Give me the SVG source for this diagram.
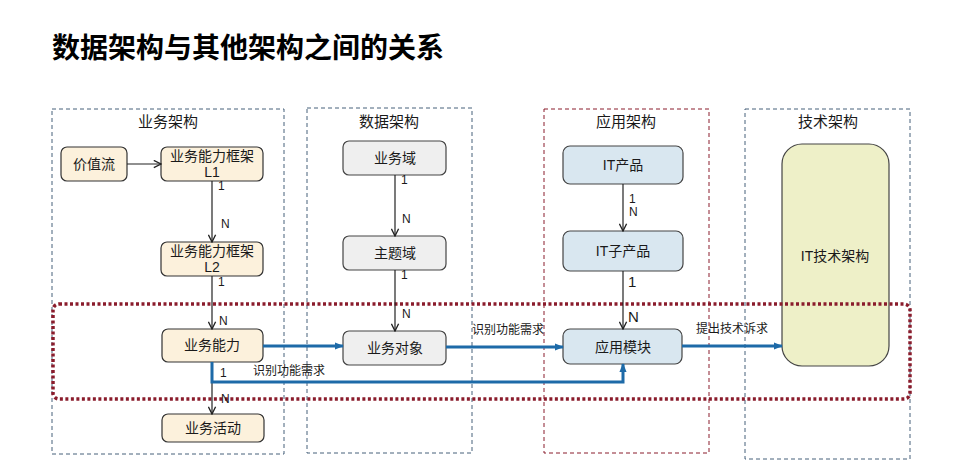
<svg xmlns="http://www.w3.org/2000/svg" width="960" height="468" viewBox="0 0 960 468">
<defs>
<style>
text{font-family:"Liberation Sans","Noto Sans CJK SC",sans-serif;fill:#1a1a1a}
.title{font-size:28px;font-weight:bold;fill:#000}
.col{fill:none;stroke:#46617a;stroke-width:1;stroke-dasharray:4 3}
.colr{fill:none;stroke:#8a1c2c;stroke-width:1;stroke-dasharray:4 3}
.ct{font-size:15px;text-anchor:middle}
.nt{font-size:14px;text-anchor:middle}
.lab{font-size:12px}
.bz{fill:#fcf1dc;stroke:#333;stroke-width:1.2}
.gr{fill:#efefef;stroke:#444;stroke-width:1.2}
.bl{fill:#d9e7f0;stroke:#444;stroke-width:1.2}
.yl{fill:#eef0c8;stroke:#444;stroke-width:1.2}
.k{stroke:#222;stroke-width:1.2;fill:none;marker-end:url(#ak)}
.b{stroke:#1d6aa8;stroke-width:3;fill:none;marker-end:url(#ab)}
</style>
<marker id="ak" viewBox="0 0 10 10" refX="9" refY="5" markerWidth="9" markerHeight="9" markerUnits="userSpaceOnUse" orient="auto"><path d="M1,1 L9,5 L1,9" fill="none" stroke="#222" stroke-width="1.5"/></marker>
<marker id="ab" viewBox="0 0 10 10" refX="9" refY="5" markerWidth="9" markerHeight="9" markerUnits="userSpaceOnUse" orient="auto"><path d="M0,1 L10,5 L0,9 Z" fill="#1d6aa8"/></marker>
</defs>
<rect width="960" height="468" fill="#fff"/>
<text class="title" x="52" y="58">数据架构与其他架构之间的关系</text>

<g id="col-business"><rect class="col" x="52" y="109" width="232" height="345"/><text class="ct" x="168" y="127">业务架构</text></g>
<g id="col-data"><rect class="col" x="307" y="108" width="165" height="345"/><text class="ct" x="389" y="127">数据架构</text></g>
<g id="col-app"><rect class="colr" x="544" y="109" width="165" height="344"/><text class="ct" x="626" y="127">应用架构</text></g>
<g id="col-tech"><rect class="col" x="745" y="109" width="165" height="350"/><text class="ct" x="828" y="127">技术架构</text></g>

<g id="n-valuestream"><rect class="bz" x="61" y="147" width="66" height="34" rx="6"/><text class="nt" x="94" y="169">价值流</text></g>
<g id="n-l1"><rect class="bz" x="161" y="147" width="102" height="34" rx="6"/><text class="nt" x="212" y="161">业务能力框架</text><text class="nt" x="212" y="177">L1</text></g>
<g id="n-l2"><rect class="bz" x="161" y="242" width="102" height="34" rx="6"/><text class="nt" x="212" y="256">业务能力框架</text><text class="nt" x="212" y="272">L2</text></g>
<g id="n-capability"><rect class="bz" x="162" y="329" width="101" height="33" rx="6"/><text class="nt" x="212" y="350">业务能力</text></g>
<g id="n-activity"><rect class="bz" x="162" y="414" width="102" height="28" rx="6"/><text class="nt" x="213" y="433">业务活动</text></g>

<g id="n-domain"><rect class="gr" x="343" y="141" width="103" height="34" rx="6"/><text class="nt" x="395" y="163">业务域</text></g>
<g id="n-subject"><rect class="gr" x="343" y="236" width="103" height="34" rx="6"/><text class="nt" x="395" y="258">主题域</text></g>
<g id="n-object"><rect class="gr" x="343" y="331" width="103" height="34" rx="6"/><text class="nt" x="395" y="353">业务对象</text></g>

<g id="n-itproduct"><rect class="bl" x="563" y="146" width="120" height="38" rx="7"/><text class="nt" x="623" y="170">IT产品</text></g>
<g id="n-itsub"><rect class="bl" x="563" y="231" width="120" height="40" rx="7"/><text class="nt" x="623" y="256">IT子产品</text></g>
<g id="n-module"><rect class="bl" x="563" y="329" width="119" height="35" rx="7"/><text class="nt" x="623" y="352">应用模块</text></g>

<g id="n-ittech"><rect class="yl" x="782" y="144" width="107" height="222" rx="20"/><text class="nt" x="835" y="261">IT技术架构</text></g>

<g id="focus"><rect x="53" y="304" width="857" height="95" rx="6" fill="none" stroke="#8a1c2c" stroke-width="3.5" stroke-dasharray="3 2.5"/></g>

<g id="connectors">
<path class="k" d="M127,164 H161"/>
<path class="k" d="M212,181 V242"/>
<path class="k" d="M212,276 V329"/>
<path class="k" d="M212,381 V414"/>
<path class="k" d="M395,175 V236"/>
<path class="k" d="M395,270 V331"/>
<path class="k" d="M623,184 V231"/>
<path class="k" d="M623,271 V329"/>
<path class="b" d="M263,346 H343"/>
<path class="b" d="M446,347 H563"/>
<path class="b" d="M682,346 H782"/>
<path class="b" d="M212,362 V382 H623 V364"/>
<text class="lab" x="218" y="190">1</text>
<text class="lab" x="221" y="228">N</text>
<text class="lab" x="218" y="286">1</text>
<text class="lab" x="219" y="325">N</text>
<text class="lab" x="220" y="377">1</text>
<text class="lab" x="221" y="403">N</text>
<text class="lab" x="401" y="184">1</text>
<text class="lab" x="402" y="223">N</text>
<text class="lab" x="401" y="279">1</text>
<text class="lab" x="402" y="318">N</text>
<text class="lab" x="629" y="203">1</text>
<text class="lab" x="629" y="216">N</text>
<text class="lab" x="628" y="287" style="font-size:15px">1</text>
<text class="lab" x="628" y="322" style="font-size:15px">N</text>
<text class="lab" x="472" y="334">识别功能需求</text>
<text class="lab" x="696" y="333">提出技术诉求</text>
<text class="lab" x="253" y="375">识别功能需求</text>
</g>
</svg>
